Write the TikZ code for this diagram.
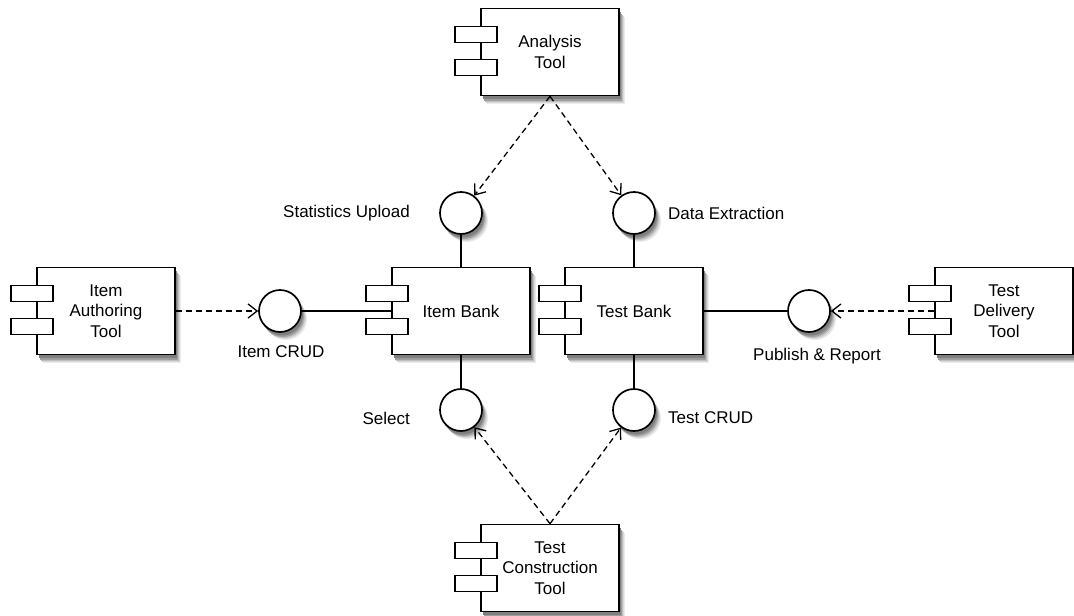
\documentclass[tikz,border=0pt]{standalone}
\usepackage{fontspec}
\setmainfont{Liberation Sans}
\usetikzlibrary{arrows.meta,calc}
\begin{document}
\begin{tikzpicture}[x=1pt,y=-1pt,
  comp/.style={draw, line width=1.6pt, fill=white, minimum width=138pt, minimum height=87pt, align=center, inner sep=0pt, font=\fontsize{17}{20.5}\selectfont},
  iface/.style={circle, draw, line width=1.7pt, fill=white, minimum size=42pt, inner sep=0pt},
  lbl/.style={inner sep=0pt, font=\fontsize{17}{20.5}\selectfont},
  dep/.style={draw, line width=1.3pt, dash pattern=on 6pt off 4pt, -{Straight Barb[length=9pt,width=14pt]}},
  conn/.style={draw, line width=1.2pt},
  tab/.style={draw, line width=1.5pt, fill=white}]
\useasboundingbox (0,0) rectangle (1074,616);
% positions
\coordinate (pat)  at (550,52);
\coordinate (piat) at (106,311);
\coordinate (pib)  at (461,311);
\coordinate (ptb)  at (634,311);
\coordinate (ptdt) at (1004,311);
\coordinate (ptct) at (550,568);
\coordinate (psu)    at (461,213);
\coordinate (pde)    at (634,213);
\coordinate (picrud) at (280,311);
\coordinate (ppr)    at (809,311);
\coordinate (psel)   at (461,410);
\coordinate (ptcrud) at (634,410);
% soft shadows, drawn first
\foreach \dx/\dy/\c in {6/8/8, 5/7/15, 4/6/25, 3/5/38, 2/3.5/50} {
  \foreach \n in {pat,piat,pib,ptb,ptdt,ptct}
    \fill[black!\c] ($(\n)+(-69+\dx,-43.5+\dy)$) rectangle ($(\n)+(69+\dx,43.5+\dy)$);
  \foreach \n in {psu,pde,picrud,ppr,psel,ptcrud}
    \fill[black!\c] ($(\n)+(\dx,\dy)$) circle (21);
}
% components
\node[comp] (at)  at (pat)  {Analysis\\Tool};
\node[comp] (iat) at (piat) {Item\\Authoring\\Tool};
\node[comp] (ib)  at (pib)  {Item Bank};
\node[comp] (tb)  at (ptb)  {Test Bank};
\node[comp] (tdt) at (ptdt) {Test\\Delivery\\Tool};
\node[comp] (tct) at (ptct) {Test\\Construction\\Tool};
\foreach \n in {at,iat,ib,tb,tdt,tct} {
  \draw[tab] ($(\n.north west)+(-25,19)$) rectangle ++(42,16);
  \draw[tab] ($(\n.north west)+(-25,52)$) rectangle ++(42,16);
}
% interfaces
\node[iface] (su)    at (psu) {};
\node[iface] (de)    at (pde) {};
\node[iface] (icrud) at (picrud) {};
\node[iface] (pr)    at (ppr) {};
\node[iface] (sel)   at (psel) {};
\node[iface] (tcrud) at (ptcrud) {};
% labels
\node[lbl, anchor=east] (lsu) at (410,213) {Statistics Upload};
\node[lbl, anchor=west] (lde) at (668,213) {Data Extraction};
\node[lbl] (licrud) at (281,352) {Item CRUD};
\node[lbl] (lpr) at (817,356) {Publish \& Report};
\node[lbl, anchor=east] (lsel) at (410,418) {Select};
\node[lbl, anchor=west] (ltcrud) at (668,418) {Test CRUD};
% realisations
\draw[conn] (su) -- (ib);
\draw[conn] (de) -- (tb);
\draw[conn] (icrud) -- (ib);
\draw[conn] (tb) -- (pr);
\draw[conn] (sel) -- (ib);
\draw[conn] (tcrud) -- (tb);
% dependencies
\draw[dep] (at.south) -- (su);
\draw[dep] (at.south) -- (de);
\draw[dep] (iat) -- (icrud);
\draw[dep] (tdt) -- (pr);
\draw[dep] (tct.north) -- (sel);
\draw[dep] (tct.north) -- (tcrud);
\end{tikzpicture}
\end{document}
